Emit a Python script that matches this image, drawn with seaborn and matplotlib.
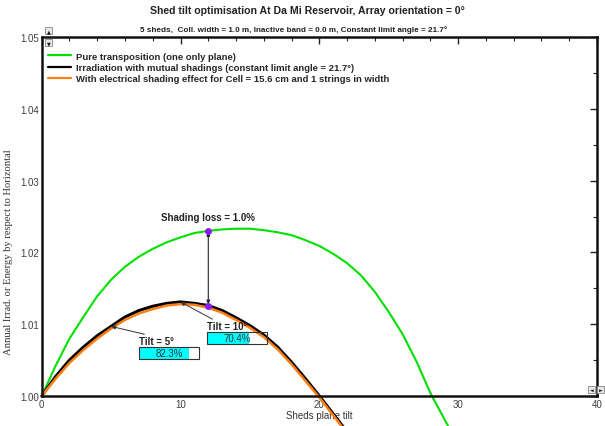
import numpy as np
import pandas as pd
import matplotlib
matplotlib.use("Agg")
import matplotlib.pyplot as plt
from matplotlib.patches import Rectangle
import seaborn as sns

sns.set_theme(style="white")
plt.rcParams["font.family"] = ["Liberation Sans", "DejaVu Sans"]


# --------------------------------------------------
# Data
# --------------------------------------------------

green_tilt = list(range(0, 30)) + [29.5]
green_vals = [1.0000, 1.0042, 1.0080, 1.0110, 1.0139, 1.0162, 1.0180, 1.0194,
              1.0205, 1.0214, 1.0221, 1.0227, 1.0230, 1.0232, 1.0233, 1.0233,
              1.0231, 1.0228, 1.0224, 1.0217, 1.0209, 1.0198, 1.0185, 1.0168,
              1.0145, 1.0117, 1.0086, 1.0048, 1.0004, 0.9968, 0.9950]

shade_tilt = list(range(0, 22)) + [21.8]
black_vals = [1.0000, 1.0027, 1.0050, 1.0068, 1.0084, 1.0097, 1.0110, 1.0119,
              1.0125, 1.0129, 1.0131, 1.0129, 1.0126, 1.0119, 1.0109, 1.0098,
              1.0085, 1.0068, 1.0047, 1.0024, 1.0000, 0.9975, 0.9955]
orange_vals = [1.0000, 1.0024, 1.0046, 1.0064, 1.0080, 1.0094, 1.0106, 1.0115,
               1.0121, 1.0126, 1.0128, 1.0127, 1.0123, 1.0116, 1.0106, 1.0095,
               1.0082, 1.0065, 1.0044, 1.0021, 0.9998, 0.9973, 0.9953]

labels = [
    "Pure transposition (one only plane)",
    "Irradiation with mutual shadings (constant limit angle = 21.7°)",
    "With electrical shading effect for Cell = 15.6 cm and 1 strings in width",
]
colors = ["#00e000", "#000000", "#ff7f10"]

marked_tilts = [5, 10]
marked_pct = [82.3, 70.4]
loss_tilt = 12

title = "Shed tilt optimisation At Da Mi Reservoir, Array orientation = 0°"
subtitle = ("5 sheds,  Coll. width = 1.0 m, Inactive band = 0.0 m, "
            "Constant limit angle = 21.7°")


# --------------------------------------------------
# Figure
# --------------------------------------------------

fig = plt.figure(figsize=(6.05, 4.27), dpi=100)
ax = fig.add_axes([41.7 / 605, 30 / 427, (597 - 41.7) / 605, (397 - 38) / 427])

sns.lineplot(x=green_tilt, y=green_vals, color=colors[0], lw=1.5,
             label=labels[0], ax=ax, clip_on=False)
sns.lineplot(x=shade_tilt, y=black_vals, color=colors[1], lw=2.2,
             label=labels[1], ax=ax, clip_on=False)
sns.lineplot(x=shade_tilt, y=orange_vals, color=colors[2], lw=1.8,
             label=labels[2], ax=ax, clip_on=False)

ax.set_xlim(0, 40)
ax.set_ylim(1.0, 1.05)

ax.set_xticks([0, 10, 20, 30, 40])
ax.set_xticks(np.arange(0, 41, 2), minor=True)
ax.set_yticks(np.arange(1.0, 1.0501, 0.01))
ax.set_yticks(np.arange(1.0, 1.0501, 0.005), minor=True)
ax.set_yticklabels([f"{v:.2f}" for v in np.arange(1.0, 1.0501, 0.01)])
ax.tick_params(which="both", direction="in", top=True, right=True,
               colors="#222222", labelcolor="#404040", labelsize=7, pad=2)
ax.tick_params(which="major", length=5, width=1)
ax.tick_params(which="minor", length=3, width=0.8)
for s in ax.spines.values():
    s.set_color("#111111")
    s.set_linewidth(1.8)

ax.set_xlabel("Sheds plane tilt", fontsize=7, color="#333333", labelpad=1)
ax.set_ylabel("Annual Irrad. or Energy by respect to Horizontal", fontsize=7.6,
              family=["Liberation Serif"], color="#333333")
ax.yaxis.set_label_coords(-0.051, 0.404)

leg = ax.legend(loc="upper left", bbox_to_anchor=(0.0, 0.978), frameon=False,
                handlelength=2.4, handletextpad=0.5, labelspacing=0.25,
                borderaxespad=0.3, prop={"weight": "bold", "size": 6.8})
for line in leg.get_lines():
    line.set_linewidth(1.6)

# --------------------------------------------------
# Shading loss annotation
# --------------------------------------------------

g = green_vals[green_tilt.index(loss_tilt)]
b = black_vals[shade_tilt.index(loss_tilt)]
loss = (1 - b / g) * 100
ax.annotate("", xy=(loss_tilt, b), xytext=(loss_tilt, g),
            arrowprops=dict(arrowstyle="<|-|>", color="#222222", lw=0.8,
                            mutation_scale=5, shrinkA=1, shrinkB=1))
ax.scatter([loss_tilt, loss_tilt], [g, b], s=16, color="#8a1cff", zorder=5)
ax.text(loss_tilt, g + 0.0019, f"Shading loss = {loss:.1f}%", ha="center",
        va="center", fontsize=7, fontweight="bold", color="#222222")

# --------------------------------------------------
# Tilt boxes
# --------------------------------------------------

for t, pct in zip(marked_tilts, marked_pct):
    yv = black_vals[shade_tilt.index(t)]
    if t == 5:
        tx, ty = t + 2.0, yv - 0.0020
    else:
        tx, ty = t + 1.9, yv - 0.0033
    ax.text(tx, ty, f"Tilt = {t}°", ha="left", va="center", fontsize=7,
            fontweight="bold", color="#222222")
    ax.annotate("", xy=(t, yv), xytext=(tx + 0.4, ty + 0.0009),
                arrowprops=dict(arrowstyle="-|>", color="#333333", lw=0.7,
                                mutation_scale=6, shrinkA=0, shrinkB=0))
    bx, by, bw, bh = tx, ty - 0.0026, 4.35, 0.0017
    ax.add_patch(Rectangle((bx, by), bw * pct / 100, bh, facecolor="#00ffff",
                           edgecolor="none", zorder=4))
    ax.add_patch(Rectangle((bx, by), bw, bh, facecolor="none",
                           edgecolor="#333333", lw=0.8, zorder=5))
    ax.text(bx + bw / 2, by + bh / 2, f"{pct:.1f}%", ha="center", va="center",
            fontsize=7, color="#333333", zorder=6)

# --------------------------------------------------
# Titles and scroll buttons
# --------------------------------------------------

fig.text(307 / 605, 1 - 11 / 427, title, ha="center", va="center",
         fontsize=7.6, fontweight="bold", color="#222222")
fig.text(294 / 605, 1 - 30 / 427, subtitle, ha="center", va="center",
         fontsize=5.9, fontweight="bold", color="#222222")

for (px, py, sym) in [(45, 28, "▲"), (45, 40, "▼"), (588, 387, "◄"), (597, 387, "►")]:
    fig.patches.append(Rectangle((px / 605, 1 - (py + 7) / 427), 7 / 605, 7 / 427,
                                 transform=fig.transFigure, facecolor="#e8e8e8",
                                 edgecolor="#888888", lw=0.6))
    fig.text((px + 3.5) / 605, 1 - (py + 3.5) / 427, sym, ha="center",
             va="center", fontsize=3.5, family=["DejaVu Sans"], color="#111111")

fig.savefig("out.png", dpi=100)
